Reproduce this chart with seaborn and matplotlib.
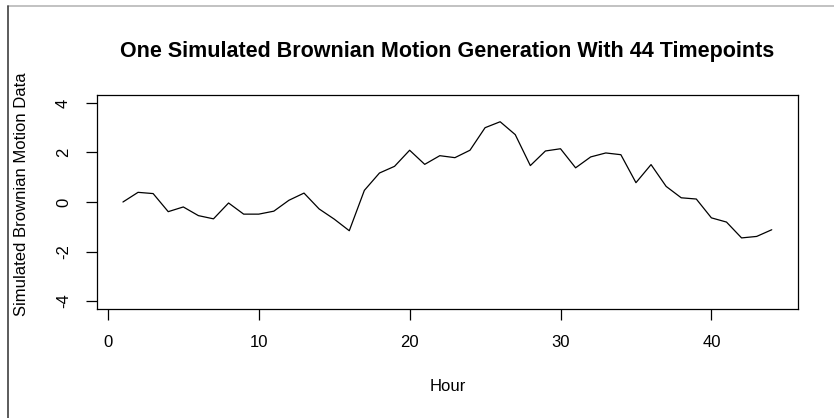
import matplotlib
matplotlib.use("Agg")
import matplotlib.pyplot as plt
from matplotlib.lines import Line2D
import seaborn as sns
import pandas as pd

# One simulated Brownian motion path, 44 hourly timepoints
hours = list(range(1, 45))
values = [0.00, 0.39, 0.34, -0.39, -0.20, -0.55, -0.68, -0.04, -0.49, -0.49,
          -0.37, 0.07, 0.36, -0.28, -0.69, -1.16, 0.47, 1.17, 1.44, 2.09,
          1.52, 1.87, 1.79, 2.09, 3.00, 3.24, 2.72, 1.47, 2.06, 2.15,
          1.38, 1.82, 1.98, 1.91, 0.78, 1.51, 0.63, 0.17, 0.12, -0.64,
          -0.81, -1.45, -1.39, -1.12]
x_ticks = [0, 10, 20, 30, 40]
y_ticks = [-4, -2, 0, 2, 4]

df = pd.DataFrame({"Hour": hours, "Value": values})

sns.set_style("white")
plt.rcParams["font.family"] = ["Liberation Sans", "DejaVu Sans"]
plt.rcParams["text.color"] = "black"
plt.rcParams["axes.unicode_minus"] = False

W, H = 834, 418
fig = plt.figure(figsize=(W / 100, H / 100), dpi=100)
ax = fig.add_axes([97 / W, 1 - 309 / H, (797.7 - 97) / W, (309 - 95) / H])

sns.lineplot(data=df, x="Hour", y="Value", color="black", linewidth=0.9, ax=ax)

ax.set_xlim(-0.72, 45.72)
ax.set_ylim(-4.32, 4.32)
ax.set_xticks(x_ticks)
ax.set_yticks(y_ticks)

for s in ax.spines.values():
    s.set_visible(True)
    s.set_color("black")
    s.set_linewidth(0.9)

ax.tick_params(axis="both", which="major", bottom=True, left=True,
               direction="out", length=7.7, width=0.9,
               color="black", labelsize=12, pad=11, labelcolor="black")
ax.tick_params(axis="y", labelrotation=90)
for lab in ax.get_yticklabels():
    lab.set_va("center")

ax.set_xlabel("Hour", fontsize=12, color="black")
ax.xaxis.set_label_coords(0.5, (309 - 386.5) / (309 - 95))
ax.xaxis.label.set_va("center")
ax.set_ylabel("Simulated Brownian Motion Data", fontsize=12, color="black")
ax.yaxis.set_label_coords((21 - 97) / (797.7 - 97), (309 - 194) / (309 - 95))
ax.yaxis.label.set_va("center")

ax.set_title("One Simulated Brownian Motion Generation With 44 Timepoints",
             fontsize=15.5, fontweight="bold", color="black",
             y=(309 - 51) / (309 - 95), va="center", pad=0)

# frame lines along the top and left edges of the canvas
fig.add_artist(Line2D([8 / W, 1], [1 - 6 / H, 1 - 6 / H], transform=fig.transFigure,
                      color="#b8b8b8", linewidth=1.2))
fig.add_artist(Line2D([8 / W, 8 / W], [0, 1 - 6 / H], transform=fig.transFigure,
                      color="#404040", linewidth=1.2))

fig.savefig("out.png", dpi=100)
